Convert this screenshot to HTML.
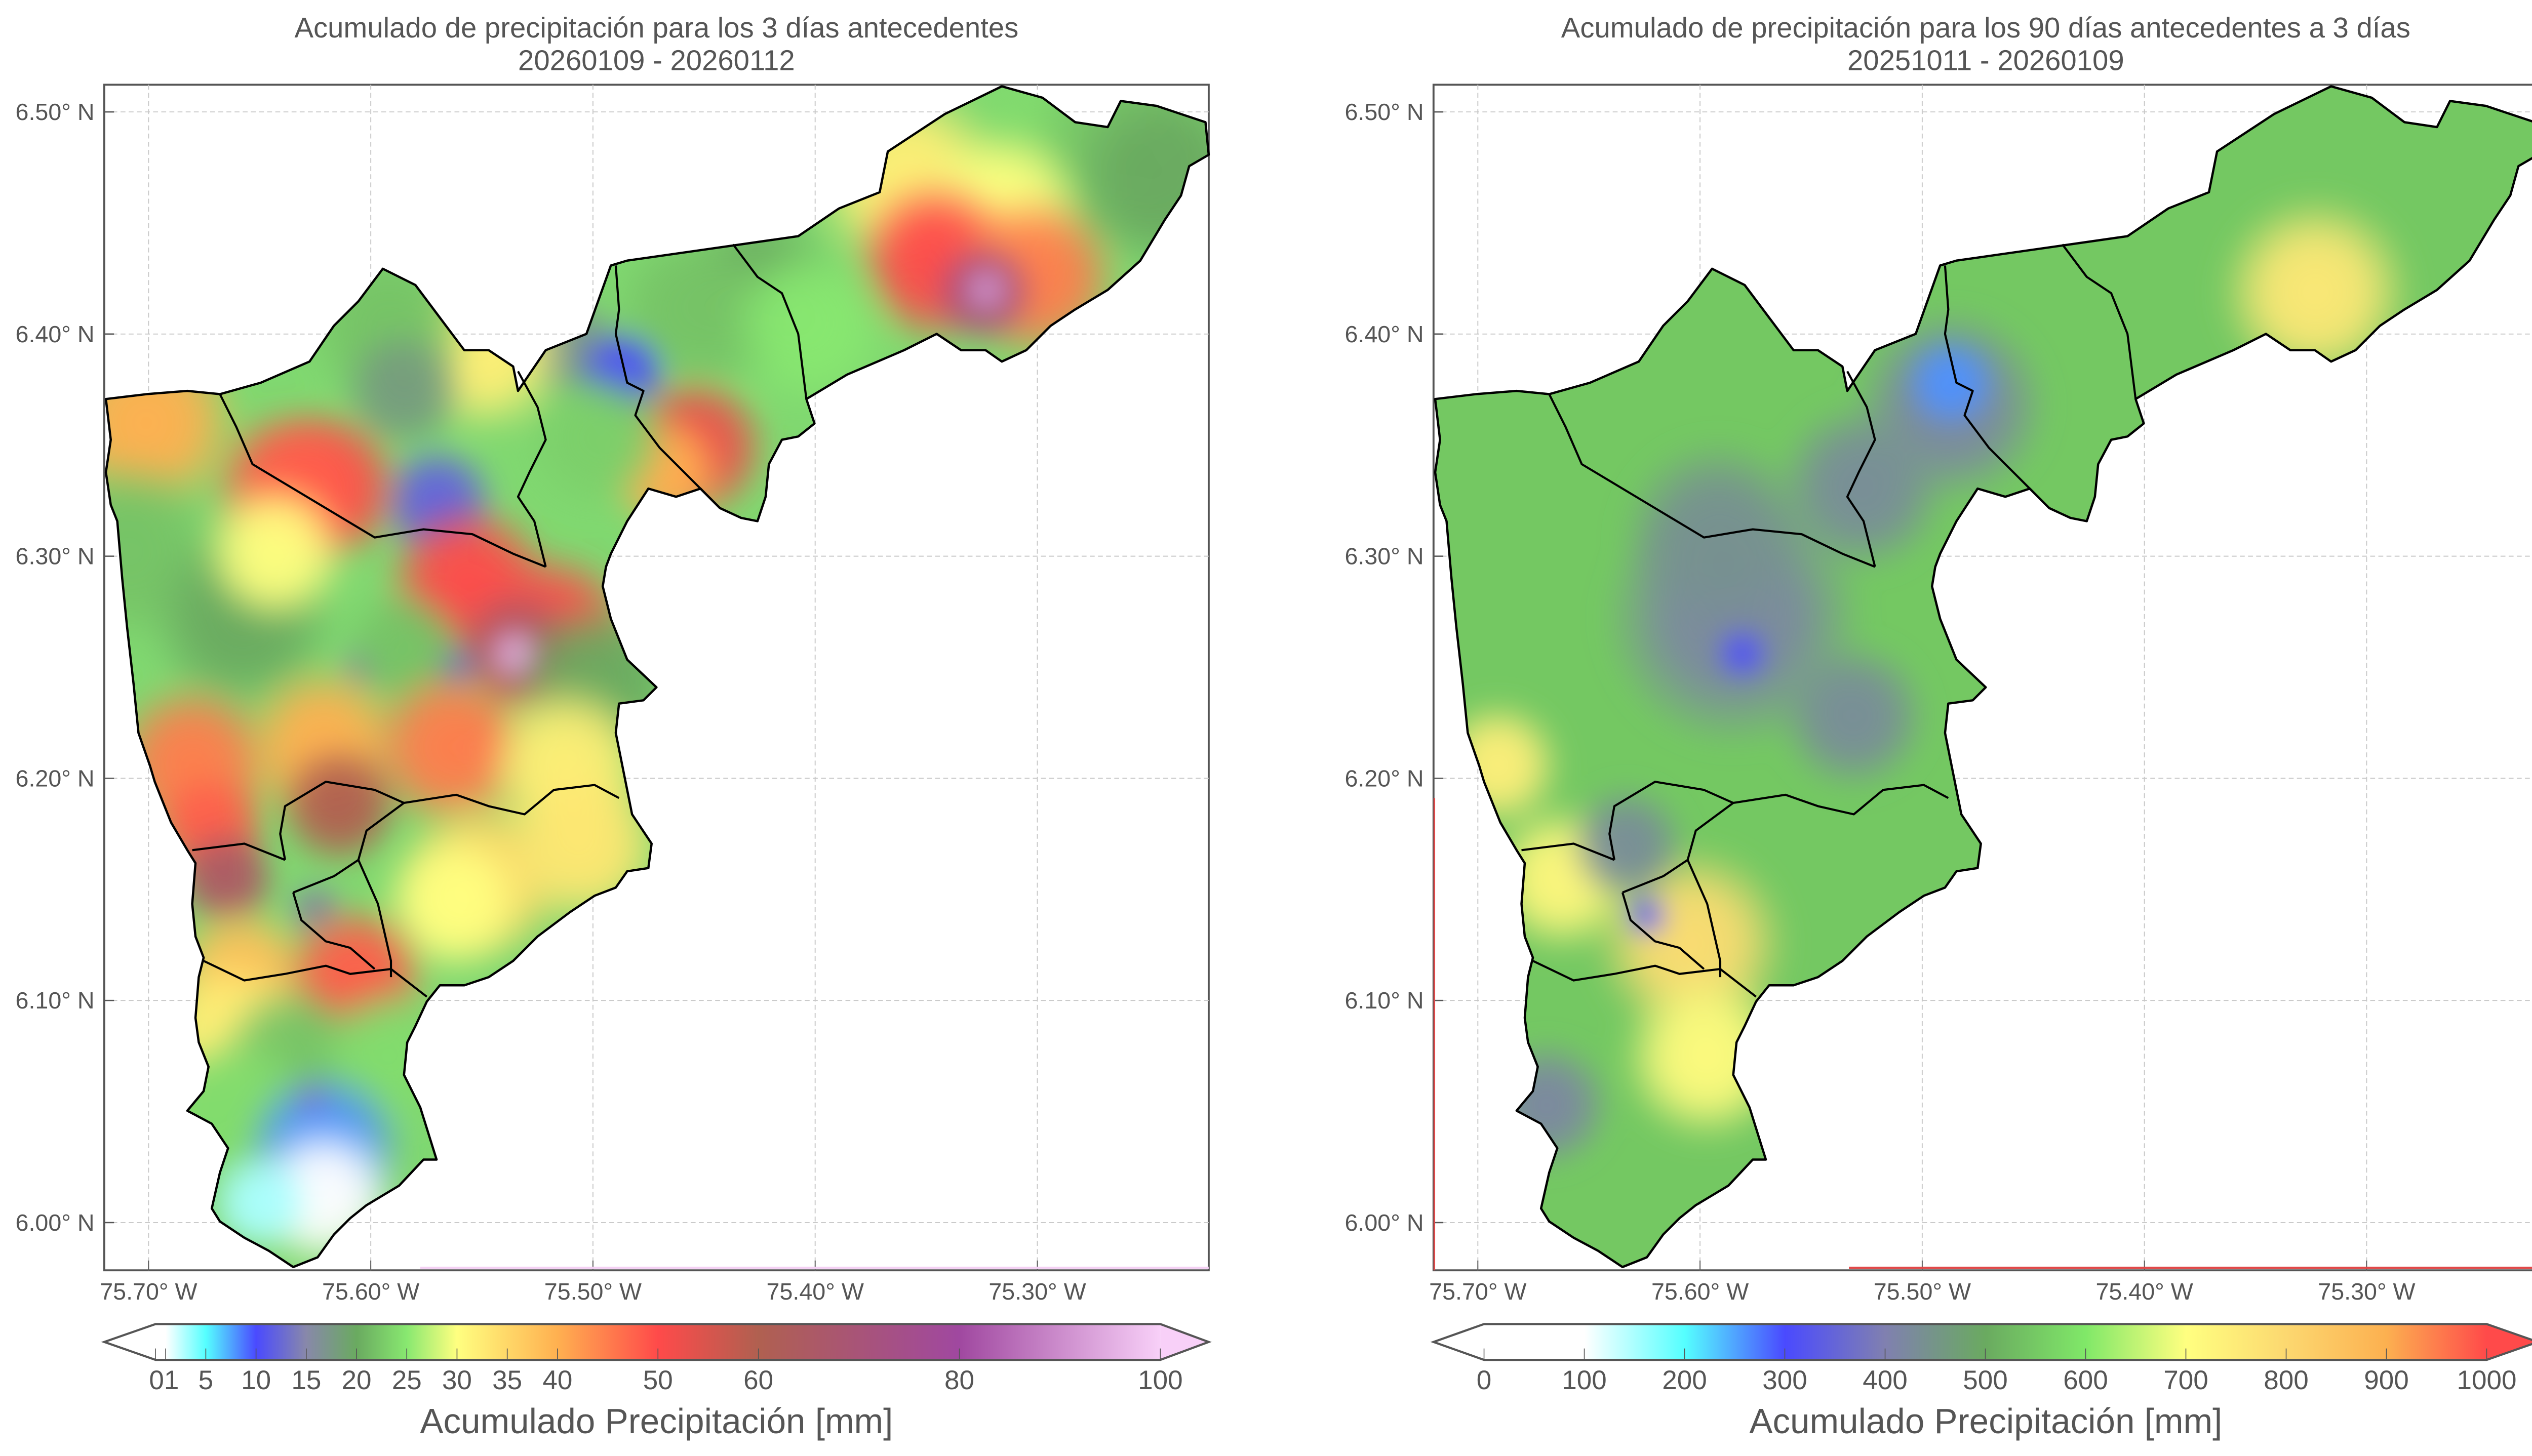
<!DOCTYPE html>
<html><head><meta charset="utf-8">
<style>
html,body{margin:0;padding:0;background:#fff;width:5044px;height:2876px;overflow:hidden}
svg{display:block}
text{font-family:"Liberation Sans",sans-serif;fill:#555}
</style></head>
<body>
<svg id="fig" xmlns="http://www.w3.org/2000/svg" width="5044" height="2876" viewBox="0 0 1568 894">
<defs id="defs"></defs>
<g id="left"></g>
<g id="right"></g>
</svg>
<script>
// ---- data ----
const lonTicks = [-75.70, -75.60, -75.50, -75.40, -75.30];
const latTicks = [6.50, 6.40, 6.30, 6.20, 6.10, 6.00];
const lonLabels = ["75.70° W","75.60° W","75.50° W","75.40° W","75.30° W"];
const latLabels = ["6.50° N","6.40° N","6.30° N","6.20° N","6.10° N","6.00° N"];
const cbTicksL = [0,1,5,10,15,20,25,30,35,40,50,60,80,100];
const cbTickLabelsL = ["0","1","5","10","15","20","25","30","35","40","50","60","80","100"];
const cbTicksR = [0,100,200,300,400,500,600,700,800,900,1000];
// colormap stops (value, colour)
const cmapValsL = [0,1,5,10,15,20,25,30,40,50,60,80,100];
const cmapColsL = ["#ffffff","#ffffff","#55ffff","#4a4aff","#8888aa","#6aaa60","#88e870","#ffff80","#ffb050","#ff4a4a","#b06050","#a048a0","#f8d0f8"];
const cmapValsR = [0,100,200,300,400,500,600,700,800,900,1000];
const cmapColsR = ["#ffffff","#ffffff","#55ffff","#4a4aff","#8080b0","#6aaa60","#80e868","#ffff80","#fcd870","#fcb050","#ff4a4a"];
// station (blob) data, left panel
const stLonL = [-75.294,-75.257,-75.243,-75.359,-75.316,-75.345,-75.301,-75.324,-75.323,-75.425,-75.454,-75.403,-75.509,-75.487,-75.454,-75.468,-75.498,-75.549,-75.592,-75.585,-75.570,-75.621,-75.636,-75.701,-75.709,-75.658,-75.643,-75.519,-75.556,-75.534,-75.535,-75.563,-75.603,-75.549,-75.498,-75.585,-75.680,-75.621,-75.563,-75.512,-75.614,-75.672,-75.665,-75.549,-75.505,-75.563,-75.625,-75.658,-75.607,-75.665,-75.636,-75.658,-75.626,-75.592,-75.680,-75.621,-75.621,-75.650];
const stLatL = [6.477,6.485,6.470,6.470,6.455,6.433,6.426,6.419,6.420,6.419,6.411,6.404,6.393,6.382,6.349,6.338,6.353,6.393,6.404,6.375,6.324,6.331,6.331,6.360,6.302,6.272,6.302,6.265,6.287,6.258,6.256,6.250,6.250,6.214,6.243,6.258,6.206,6.214,6.214,6.206,6.188,6.177,6.155,6.155,6.170,6.144,6.141,6.111,6.111,6.082,6.075,6.053,6.053,6.075,6.045,6.034,6.012,6.009];
const stValL = [24,22,20,32,30,50,45,72,92,20,22,25,17,10,52,40,23,32,22,18,12,50,48,40,22,20,30,50,50,65,95,12,15,62,20,22,45,40,45,32,60,48,65,35,33,30,16,38,48,32,22,24,50,24,24,8,0,3];
const stSizeL = [50,50,45,45,40,40,40,25,10,40,40,40,25,22,35,28,35,40,40,30,28,38,38,45,45,45,35,40,40,30,12,12,12,14,40,30,40,40,40,40,30,28,25,40,40,35,14,35,35,40,35,35,10,35,35,38,35,25];
// right panel
const stLonR = [-75.323,-75.487,-75.487,-75.585,-75.592,-75.527,-75.581,-75.531,-75.691,-75.662,-75.604,-75.597,-75.669,-75.633,-75.624];
const stLatR = [6.419,6.368,6.378,6.272,6.309,6.331,6.256,6.228,6.206,6.155,6.126,6.075,6.053,6.170,6.138];
const stValR = [760,420,260,420,440,430,300,430,740,720,790,710,420,430,300];
const stSizeR = [45,45,22,60,45,40,12,35,30,35,45,40,30,28,10];
const SPREAD = 1.35;

// ---- axes ----
const X0 = 91.2, DX = 1364, Y0 = 68.7, DY = 1364, OFF = 816;
const xs = (lon, o) => X0 + (lon + 75.70) * DX + o;
const ys = lat => Y0 + (6.50 - lat) * DY;
const cbL = v => 95.5 + v * 6.168;
const cbR = v => 95 + v * 0.6155;

function hex2rgb(h){return [1,3,5].map(i=>parseInt(h.substr(i,2),16));}
function cmap(v, vals, cols){
  if(v<=vals[0]) return cols[0];
  for(let i=1;i<vals.length;i++){ if(v<=vals[i]){ const t=(v-vals[i-1])/(vals[i]-vals[i-1]); const a=hex2rgb(cols[i-1]),b=hex2rgb(cols[i]); return 'rgb('+a.map((c,k)=>Math.round(c+(b[k]-c)*t)).join(',')+')'; } }
  return cols[cols.length-1];
}
const NS="http://www.w3.org/2000/svg";
function mk(tag, attrs, parent){const e=document.createElementNS(NS,tag);for(const k in attrs)e.setAttribute(k,attrs[k]);if(parent)parent.appendChild(e);return e;}

const outline="545,93 580,70 615,53 640,60 660,75 680,78 688,62 710,65 740,75 742,95 730,102 725,120 715,135 700,160 680,178 660,190 645,200 630,215 615,222 605,215 590,215 575,205 555,215 520,230 495,245 500,260 490,268 480,270 472,285 470,305 465,320 455,318 442,312 430,300 415,305 398,300 385,320 375,340 372,348 370,360 375,380 385,405 403,422 395,430 380,432 378,450 382,470 385,485 388,500 400,518 398,533 385,535 378,545 365,550 350,560 330,575 315,590 300,600 285,605 270,605 262,615 255,630 250,640 248,660 258,680 268,712 260,712 245,728 225,740 215,748 205,758 195,772 180,778 165,768 150,760 135,750 130,742 135,720 140,705 130,690 115,682 125,670 128,655 122,640 120,625 122,600 125,588 120,575 118,555 120,530 115,522 105,505 95,480 92,470 85,450 82,420 78,385 75,355 72,320 68,310 65,290 68,270 65,245 90,242 115,240 135,242 160,235 190,222 205,200 220,185 235,165 255,175 270,195 285,215 300,215 315,225 318,240 335,215 360,205 375,163 385,160 420,155 455,150 490,145 515,128 540,118";
const inner=[
 "135,242 145,262 155,285 180,300 210,318 230,330 260,325 290,328 315,340 335,348",
 "318,228 330,250 335,270 325,290 318,305 328,320 335,348",
 "378,163 380,190 378,205 385,235 395,240 390,255 405,275 420,290 430,300",
 "450,150 465,170 480,180 490,205 495,245",
 "118,522 150,518 175,528",
 "175,528 172,512 175,495 200,480 230,485 248,493 225,510 220,528 232,555 240,590 240,600",
 "248,493 280,488 300,495 322,500 340,485 365,482 380,490",
 "180,548 185,565 200,578 215,582 230,595",
 "180,548 205,538 220,528",
 "125,590 150,602 175,598 200,593 215,598 240,595 262,612"
];

const defs=document.getElementById('defs');
function panel(g, o, lons, lats, vals, sizes, cv, cc, base, id, title1, title2, cbx, cbTicks, cbLabels, cbMax, rightArrowCol, lineCol){
  const cp=mk('clipPath',{id:'clip'+id},defs);
  mk('polygon',{points:outline,transform:'translate('+o+',0)'},cp);
  const blur=mk('filter',{id:'blur'+id,x:'-50%',y:'-50%',width:'200%',height:'200%'},defs);
  mk('feGaussianBlur',{stdDeviation:'8'},blur);
  const frame=mk('rect',{x:64+o,y:52,width:678,height:728,fill:'#fff',stroke:'#555','stroke-width':1.2},g);
  
  
  lonTicks.forEach((t,i)=>{
    const l=mk('line',{x1:xs(t,o),x2:xs(t,o),y1:52,y2:780,stroke:'#c8c8c8','stroke-width':0.6,'stroke-dasharray':'3,2'},g);
    
    
    mk('line',{x1:xs(t,o),x2:xs(t,o),y1:774,y2:780,stroke:'#555','stroke-width':0.6},g);
    const tx=mk('text',{x:xs(t,o),y:798,'font-size':14.5,'text-anchor':'middle'},g);
    tx.textContent=lonLabels[i];
    
    
  });
  latTicks.forEach((t,i)=>{
    const l=mk('line',{x1:64+o,x2:742+o,y1:ys(t),y2:ys(t),stroke:'#c8c8c8','stroke-width':0.6,'stroke-dasharray':'3,2'},g);
    
    
    mk('line',{x1:64+o,x2:70+o,y1:ys(t),y2:ys(t),stroke:'#555','stroke-width':0.8},g);
    const tx=mk('text',{x:58+o,y:ys(t)+5,'font-size':14.5,'text-anchor':'end'},g);
    tx.textContent=latLabels[i];
    
    
  });
  const fg=mk('g',{'clip-path':'url(#clip'+id+')'},g);
  
  
  mk('polygon',{points:outline,transform:'translate('+o+',0)',fill:base},fg);
  const bg=mk('g',{filter:'url(#blur'+id+')'},fg);
  lons.forEach((lon,i)=>{
    const col=cmap(vals[i],cv,cc);
    const gid='g'+id+i;
    const rg=mk('radialGradient',{id:gid},defs);
    mk('stop',{offset:'0','stop-color':col,'stop-opacity':1},rg);
    mk('stop',{offset:'0.5','stop-color':col,'stop-opacity':0.9},rg);
    mk('stop',{offset:'1','stop-color':col,'stop-opacity':0},rg);
    const c=mk('circle',{cx:xs(lon,o),cy:ys(lats[i]),r:sizes[i]*SPREAD,fill:'url(#'+gid+')'},bg);
    
    
  });
  const ol=mk('polygon',{points:outline,transform:'translate('+o+',0)',fill:'none',stroke:'#000','stroke-width':1.4,'stroke-linejoin':'round'},g);
  
  
  inner.forEach(p=>{
    const pl=mk('polyline',{points:p,transform:'translate('+o+',0)',fill:'none',stroke:'#000','stroke-width':1.3,'stroke-linejoin':'round'},g);
    
    
  });
  const bl=mk('line',{x1:(o?1135:258),x2:742+o,y1:778.5,y2:778.5,stroke:lineCol,'stroke-width':1.5},g);
  
  
  if(o){ const vl=mk('line',{x1:880.5,x2:880.5,y1:490,y2:780,stroke:lineCol,'stroke-width':1},g);
    
     }
  const t1=mk('text',{x:403+o,y:23,'font-size':17.5,'text-anchor':'middle'},g);
  t1.textContent=title1;
  
  
  const t2=mk('text',{x:403+o,y:43,'font-size':17.5,'text-anchor':'middle'},g);
  t2.textContent=title2;
  
  
  const lg=mk('linearGradient',{id:'cb'+id,gradientUnits:'userSpaceOnUse',x1:cbx(0)+o,x2:cbx(cbMax)+o,y1:0,y2:0},defs);
  cv.forEach((v,i)=>mk('stop',{offset:(v/cbMax).toFixed(4),'stop-color':cc[i]},lg));
  const cbg=mk('g',{},g);
  
  
  const L=64+o, B0=cbx(0)+o, B1=cbx(cbMax)+o, R=742+o;
  mk('polygon',{points:L+',824 '+B0+',813 '+B0+',835',fill:'#fff'},cbg);
  mk('polygon',{points:B1+',813 '+R+',824 '+B1+',835',fill:rightArrowCol},cbg);
  mk('rect',{x:B0,y:813,width:B1-B0,height:22,fill:'url(#cb'+id+')'},cbg);
  mk('polygon',{points:L+',824 '+B0+',813 '+B1+',813 '+R+',824 '+B1+',835 '+B0+',835',fill:'none',stroke:'#555','stroke-width':1.3},cbg);
  cbTicks.forEach((v,i)=>{
    mk('line',{x1:cbx(v)+o,x2:cbx(v)+o,y1:828,y2:835,stroke:'#555','stroke-width':0.5},cbg);
    if(id==='L' && v===0) return;
    const tx=mk('text',{x:cbx(v)+o+(id==='L'&&v===1?-1:0),y:853,'font-size':16.5,'text-anchor':'middle'},cbg);
    tx.textContent= (id==='L'&&v===1)?'01':cbLabels[i];
    
    
  });
  const lab=mk('text',{x:403+o,y:880,'font-size':21.5,'text-anchor':'middle'},cbg);
  lab.textContent='Acumulado Precipitación [mm]';
  
  
}
panel(document.getElementById('left'),0,stLonL,stLatL,stValL,stSizeL,cmapValsL,cmapColsL,'#80d870','L',
 'Acumulado de precipitación para los 3 días antecedentes','20260109 - 20260112',cbL,cbTicksL,cbTickLabelsL,100,'#f8d0f8','#f4d0f4');
panel(document.getElementById('right'),OFF,stLonR,stLatR,stValR,stSizeR,cmapValsR,cmapColsR,'#74c862','R',
 'Acumulado de precipitación para los 90 días antecedentes a 3 días','20251011 - 20260109',cbR,cbTicksR,cbTicksR.map(String),1000,'#ff4a4a','#e04848');
</script>
</body></html>
